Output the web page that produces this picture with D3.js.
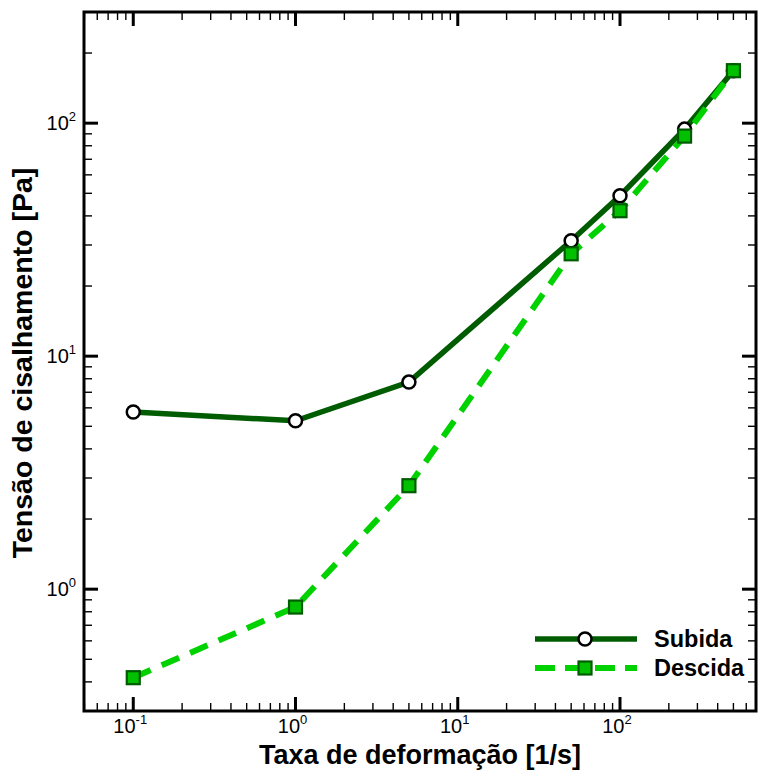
<!DOCTYPE html>
<html>
<head>
<meta charset="utf-8">
<script src="https://cdn.jsdelivr.net/npm/d3@7"></script>
<style>
  body { margin: 0; background: #fff; }
  svg { display: block; font-family: "Liberation Sans", Arial, sans-serif; }
</style>
</head>
<body>
<div id="chart"></div>
<script>
// shear rate [1/s]
var taxa = [0.1, 1, 5, 50, 100, 250, 500];
// shear stress [Pa]
var subida = [5.76, 5.28, 7.74, 31.3, 48.8, 94.3, 168];
var descida = [0.417, 0.838, 2.78, 27.5, 42.1, 88, 168];
var series = ["Subida", "Descida"];
var xMajor = [-1, 0, 1, 2];   // exponents
var yMajor = [0, 1, 2];

var W = 761, H = 770;
var margin = {top: 12, right: 5, bottom: 59, left: 84};

var svg = d3.select("#chart").append("svg")
    .attr("width", W).attr("height", H);

var x = d3.scaleLog()
    .domain([0.0497, 689])
    .range([margin.left, W - margin.right]);
var y = d3.scaleLog()
    .domain([0.3, 300])
    .range([H - margin.bottom, margin.top]);

var x0 = x.range()[0], x1 = x.range()[1];
var y0 = y.range()[0], y1 = y.range()[1];

// minor / major tick values inside domain
function tickVals(scale) {
  var d = scale.domain(), out = [];
  for (var e = Math.floor(Math.log10(d[0])); e <= Math.ceil(Math.log10(d[1])); e++) {
    for (var m = 1; m <= 9; m++) {
      var v = m * Math.pow(10, e);
      if (v >= d[0] * 0.999 && v <= d[1] * 1.001) out.push({v: v, major: m == 1});
    }
  }
  return out;
}

var ticks = svg.append("g").attr("class", "ticks");
var majLen = 14, minLen = 8;

tickVals(x).forEach(function(t) {
  var len = t.major ? majLen : minLen;
  var sw = t.major ? 3 : 1.4;
  var px = x(t.v);
  ticks.append("line").attr("x1", px).attr("x2", px).attr("y1", y0).attr("y2", y0 - len)
    .attr("stroke", "#000").attr("stroke-width", sw);
  ticks.append("line").attr("x1", px).attr("x2", px).attr("y1", y1).attr("y2", y1 + len)
    .attr("stroke", "#000").attr("stroke-width", sw);
});
tickVals(y).forEach(function(t) {
  var len = t.major ? majLen : minLen;
  var sw = t.major ? 3 : 1.4;
  var py = y(t.v);
  ticks.append("line").attr("y1", py).attr("y2", py).attr("x1", x0).attr("x2", x0 + len)
    .attr("stroke", "#000").attr("stroke-width", sw);
  ticks.append("line").attr("y1", py).attr("y2", py).attr("x1", x1).attr("x2", x1 - len)
    .attr("stroke", "#000").attr("stroke-width", sw);
});

// frame
svg.append("rect")
  .attr("x", x0).attr("y", y1)
  .attr("width", x1 - x0).attr("height", y0 - y1)
  .attr("fill", "none").attr("stroke", "#000").attr("stroke-width", 3);

// tick labels
xMajor.forEach(function(e) {
  var t = svg.append("text")
    .attr("x", x(Math.pow(10, e)) - 3)
    .attr("y", y0 + 22)
    .attr("text-anchor", "middle")
    .style("font-size", "20px");
  t.append("tspan").text("10");
  t.append("tspan").attr("dy", -9).style("font-size", "13px").text(e);
});
yMajor.forEach(function(e) {
  var t = svg.append("text")
    .attr("x", x0 - 8)
    .attr("y", y(Math.pow(10, e)) + 7)
    .attr("text-anchor", "end")
    .style("font-size", "20px");
  t.append("tspan").text("10");
  t.append("tspan").attr("dy", -9).style("font-size", "13px").text(e);
});

// axis titles
svg.append("text")
  .attr("x", 420).attr("y", 764)
  .attr("text-anchor", "middle")
  .style("font-size", "27px").style("font-weight", "bold")
  .text("Taxa de deformação [1/s]");
svg.append("text")
  .attr("transform", "translate(32,363) rotate(-90)")
  .attr("text-anchor", "middle")
  .style("font-size", "28.5px").style("font-weight", "bold")
  .text("Tensão de cisalhamento [Pa]");

var dark = "#005c00", bright = "#00d200", sqFill = "#00c000";

var line = d3.line().x(function(d) { return x(d[0]); }).y(function(d) { return y(d[1]); });
var upData = taxa.map(function(t, i) { return [t, subida[i]]; });
var downData = taxa.map(function(t, i) { return [t, descida[i]]; });

var plot = svg.append("g");
plot.append("path").datum(upData).attr("d", line)
  .attr("fill", "none").attr("stroke", dark).attr("stroke-width", 5.5);
plot.append("path").datum(downData).attr("d", line)
  .attr("fill", "none").attr("stroke", bright).attr("stroke-width", 6)
  .attr("stroke-dasharray", "19,12");

plot.selectAll("circle.up").data(upData).enter().append("circle")
  .attr("class", "up")
  .attr("cx", function(d) { return x(d[0]); })
  .attr("cy", function(d) { return y(d[1]); })
  .attr("r", 6.5)
  .attr("fill", "#fff").attr("stroke", "#000").attr("stroke-width", 2.5);

var sq = 13;
plot.selectAll("rect.down").data(downData).enter().append("rect")
  .attr("class", "down")
  .attr("x", function(d) { return x(d[0]) - sq / 2; })
  .attr("y", function(d) { return y(d[1]) - sq / 2; })
  .attr("width", sq).attr("height", sq)
  .attr("fill", sqFill).attr("stroke", dark).attr("stroke-width", 2.2);

// legend
var lg = svg.append("g");
var lx0 = 535, lx1 = 637, lmid = 585;
series.forEach(function(s, i) {
  var ly = 639 + i * 29;
  var l = lg.append("line").attr("x1", lx0).attr("x2", lx1).attr("y1", ly).attr("y2", ly);
  if (i == 0) {
    l.attr("stroke", dark).attr("stroke-width", 5.5);
    lg.append("circle").attr("cx", lmid).attr("cy", ly).attr("r", 6.5)
      .attr("fill", "#fff").attr("stroke", "#000").attr("stroke-width", 2.5);
  } else {
    l.attr("stroke", bright).attr("stroke-width", 6).attr("stroke-dasharray", "20,10");
    lg.append("rect").attr("x", lmid - sq / 2).attr("y", ly - sq / 2)
      .attr("width", sq).attr("height", sq)
      .attr("fill", sqFill).attr("stroke", dark).attr("stroke-width", 2.2);
  }
  lg.append("text").attr("x", 654).attr("y", ly + 8)
    .style("font-size", "23.5px").style("font-weight", "bold")
    .text(s);
});
</script>
</body>
</html>
